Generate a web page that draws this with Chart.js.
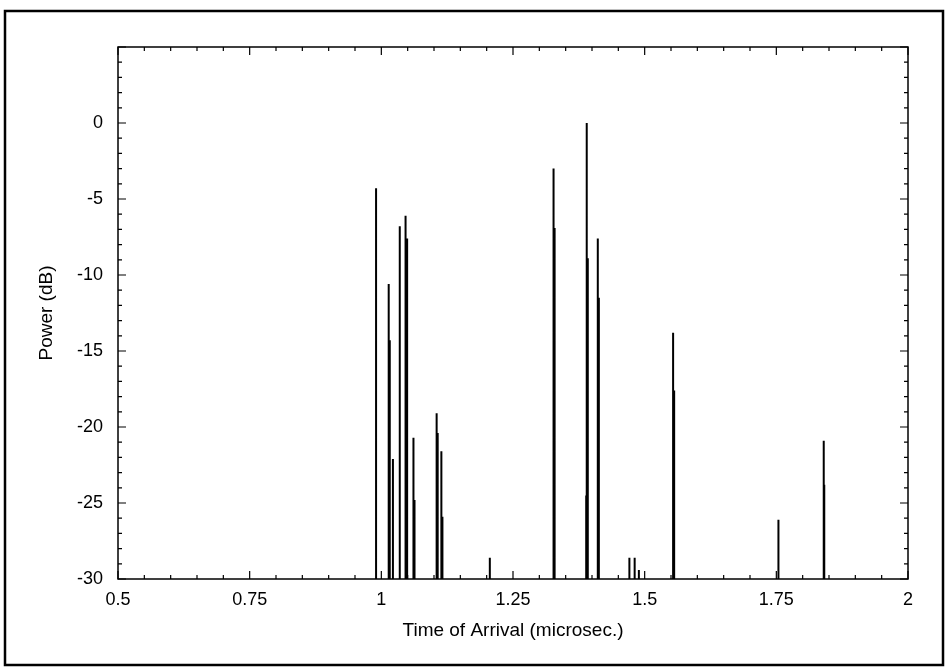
<!DOCTYPE html>
<html>
<head>
<meta charset="utf-8">
<title>Power vs Time of Arrival</title>
<script src="https://cdn.jsdelivr.net/npm/chart.js@4/dist/chart.umd.min.js"></script>
<style>
  html, body { margin: 0; padding: 0; background: #fff; }
  canvas { display: block; }
</style>
</head>
<body>
<canvas id="toaChart" width="945" height="672"></canvas>
<script>
// arrival times (microsec.) and power (dB) of each received path
const arrivalTimes = [0.990, 1.014, 1.016, 1.022, 1.035, 1.046, 1.049, 1.061, 1.063,
    1.105, 1.107, 1.114, 1.116, 1.206, 1.327, 1.329, 1.389, 1.390, 1.392, 1.411, 1.413,
    1.471, 1.481, 1.489, 1.554, 1.556, 1.754, 1.840, 1.841];
const powerDb = [-4.3, -10.6, -14.3, -22.1, -6.8, -6.1, -7.6, -20.7, -24.8,
    -19.1, -20.4, -21.6, -25.9, -28.6, -3.0, -6.9, -24.5, 0.0, -8.9, -7.6, -11.5,
    -28.6, -28.6, -29.4, -13.8, -17.6, -26.1, -20.9, -23.8];

const xTicks = [0.5, 0.75, 1, 1.25, 1.5, 1.75, 2];
const yTicks = [-30, -25, -20, -15, -10, -5, 0];
const floorDb = -30;

document.addEventListener('DOMContentLoaded', () => {
    const ctx = document.getElementById('toaChart').getContext('2d');
    Chart.defaults.color = '#000';
    Chart.defaults.font.family = '"Liberation Sans", Arial, sans-serif';

    // each path becomes a vertical stick from the floor up to its power
    const sticks = [];
    arrivalTimes.forEach((t, i) => {
        sticks.push({ x: t, y: floorDb }, { x: t, y: powerDb[i] }, { x: t, y: null });
    });

    // box, inward ticks (major + minor) and the outer border
    const framePlugin = {
        id: 'framePlugin',
        beforeDraw(chart) {
            const c = chart.ctx;
            c.save();
            c.fillStyle = '#fff';
            c.fillRect(0, 0, chart.width, chart.height);
            c.restore();
        },
        afterDraw(chart) {
            const c = chart.ctx;
            const a = chart.chartArea;
            const xs = chart.scales.x, ys = chart.scales.y;
            c.save();
            c.strokeStyle = '#000';
            c.lineWidth = 1.5;
            c.strokeRect(a.left, a.top, a.right - a.left, a.bottom - a.top);
            c.lineWidth = 1.2;
            c.beginPath();
            for (let i = 0; i <= 30; i++) {
                const px = xs.getPixelForValue(0.5 + i * 0.05);
                const len = i % 5 === 0 ? 8 : 4;
                c.moveTo(px, a.bottom); c.lineTo(px, a.bottom - len);
                c.moveTo(px, a.top); c.lineTo(px, a.top + len);
            }
            for (let i = 0; i <= 35; i++) {
                const py = ys.getPixelForValue(-30 + i);
                const len = i % 5 === 0 ? 8 : 4;
                c.moveTo(a.left, py); c.lineTo(a.left + len, py);
                c.moveTo(a.right, py); c.lineTo(a.right - len, py);
            }
            c.stroke();
            // outer border of the figure
            c.lineWidth = 2.5;
            c.strokeRect(5, 11, 938, 654);
            c.restore();
        }
    };

    new Chart(ctx, {
        type: 'line',
        data: {
            datasets: [{
                data: sticks,
                borderColor: '#000',
                borderWidth: 2,
                pointRadius: 0,
                spanGaps: false,
                tension: 0
            }]
        },
        options: {
            responsive: false,
            animation: false,
            layout: { padding: { left: 5, top: 47, right: 37, bottom: 0 } },
            plugins: { legend: { display: false }, tooltip: { enabled: false } },
            scales: {
                x: {
                    type: 'linear',
                    min: 0.5,
                    max: 2,
                    grid: { display: false, drawTicks: false },
                    border: { display: false },
                    afterBuildTicks: (s) => { s.ticks = xTicks.map(v => ({ value: v })); },
                    afterFit: (s) => { s.height = 93; },
                    ticks: {
                        autoSkip: false,
                        maxRotation: 0,
                        padding: 10,
                        font: { size: 18 },
                        callback: (v) => String(Math.round(v * 100) / 100)
                    },
                    title: {
                        display: true,
                        text: 'Time of Arrival (microsec.)',
                        font: { size: 19 },
                        padding: { top: 0, bottom: 30 }
                    }
                },
                y: {
                    min: -30,
                    max: 5,
                    grid: { display: false, drawTicks: false },
                    border: { display: false },
                    afterBuildTicks: (s) => { s.ticks = yTicks.map(v => ({ value: v })); },
                    afterFit: (s) => { s.width = 113; },
                    ticks: {
                        autoSkip: false,
                        padding: 15,
                        font: { size: 18 },
                        callback: (v) => String(v)
                    },
                    title: {
                        display: true,
                        text: 'Power (dB)',
                        font: { size: 19 },
                        padding: { top: 30, bottom: 0 }
                    }
                }
            }
        },
        plugins: [framePlugin]
    });
});
</script>
</body>
</html>
